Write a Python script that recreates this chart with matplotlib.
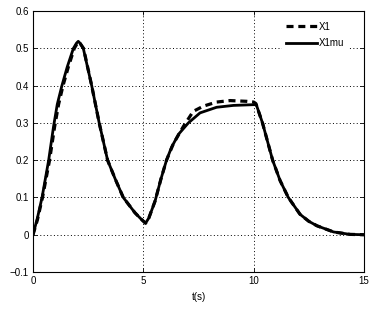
import matplotlib
matplotlib.use("Agg")
import matplotlib.pyplot as plt

# X1mu (solid)
t_mu = [0, 0.2, 0.41, 0.71, 0.93, 1.1, 1.31, 1.55, 1.83, 1.97, 2.05, 2.13, 2.28, 2.66,
        3.0, 3.38, 3.73, 4.09, 4.62, 4.9, 5.1, 5.25, 5.53, 5.8, 6.05, 6.28, 6.6, 7.04,
        7.57, 8.32, 9.08, 10.0, 10.12, 10.4, 10.86, 11.2, 11.57, 12.1, 12.5, 12.87,
        13.62, 14.37, 15]
x1mu = [0, 0.045, 0.1, 0.2, 0.29, 0.35, 0.4, 0.45, 0.5, 0.514, 0.519, 0.514, 0.5, 0.4,
        0.3, 0.2, 0.149, 0.1, 0.059, 0.042, 0.031, 0.045, 0.09, 0.15, 0.2, 0.235, 0.27, 0.3,
        0.327, 0.342, 0.347, 0.349, 0.349, 0.3, 0.2, 0.145, 0.1, 0.055, 0.036, 0.024,
        0.0075, 0.001, 0.0]

# X1 (dashed)
t_x1 = [0, 0.2, 0.43, 0.75, 0.98, 1.16, 1.36, 1.6, 1.87, 2.0, 2.07, 2.14, 2.29, 2.66,
        3.0, 3.38, 3.73, 4.09, 4.62, 4.9, 5.1, 5.25, 5.53, 5.8, 6.05, 6.36, 6.81, 7.26,
        7.72, 8.32, 8.93, 9.68, 10.0, 10.1, 10.4, 10.86, 11.2, 11.57, 12.1, 12.5, 12.87,
        13.62, 14.37, 15]
x1 = [0, 0.04, 0.1, 0.2, 0.29, 0.35, 0.4, 0.45, 0.5, 0.513, 0.517, 0.513, 0.5, 0.4,
      0.3, 0.2, 0.149, 0.1, 0.059, 0.042, 0.031, 0.045, 0.09, 0.15, 0.2, 0.244, 0.29, 0.331,
      0.345, 0.356, 0.36, 0.358, 0.356, 0.352, 0.3, 0.2, 0.145, 0.1, 0.055, 0.036, 0.024,
      0.0075, 0.001, 0.0]

xticks = [0, 5, 10, 15]
yticks = [-0.1, 0, 0.1, 0.2, 0.3, 0.4, 0.5, 0.6]
ytick_labels = ["\u22120.1", "0", "0.1", "0.2", "0.3", "0.4", "0.5", "0.6"]

plt.rcParams['font.family'] = ['Liberation Sans', 'DejaVu Sans']

fig = plt.figure(figsize=(3.86, 3.09), dpi=100)
ax = fig.add_axes([0.0855, 0.1197, 0.943 - 0.0855, 0.964 - 0.1197])

ax.plot(t_x1, x1, color='black', lw=2.3, linestyle=(0, (2.2, 1.5)), label='X1', zorder=3)
ax.plot(t_mu, x1mu, color='black', lw=2.0, linestyle='-', label='X1mu', zorder=4)

ax.set_xlim(0, 15)
ax.set_ylim(-0.1, 0.6)
ax.set_xticks(xticks)
ax.set_xticklabels([str(v) for v in xticks])
ax.set_yticks(yticks)
ax.set_yticklabels(ytick_labels)
ax.tick_params(direction='in', length=3, labelsize=7, top=True, right=True, width=0.6, pad=3)
ax.grid(True, color='black', linestyle=(0, (1, 2.5)), linewidth=0.7)
for s in ax.spines.values():
    s.set_linewidth(0.8)
ax.set_xlabel('t(s)', fontsize=7, labelpad=4)

leg = ax.legend(loc='upper right', bbox_to_anchor=(0.96, 0.985), fontsize=7, frameon=True,
                fancybox=False, edgecolor='white', framealpha=1, handlelength=3.2,
                handletextpad=0.2, borderaxespad=0.3, labelspacing=0.65)
leg.get_frame().set_linewidth(0)

fig.savefig('out.png', dpi=100)
